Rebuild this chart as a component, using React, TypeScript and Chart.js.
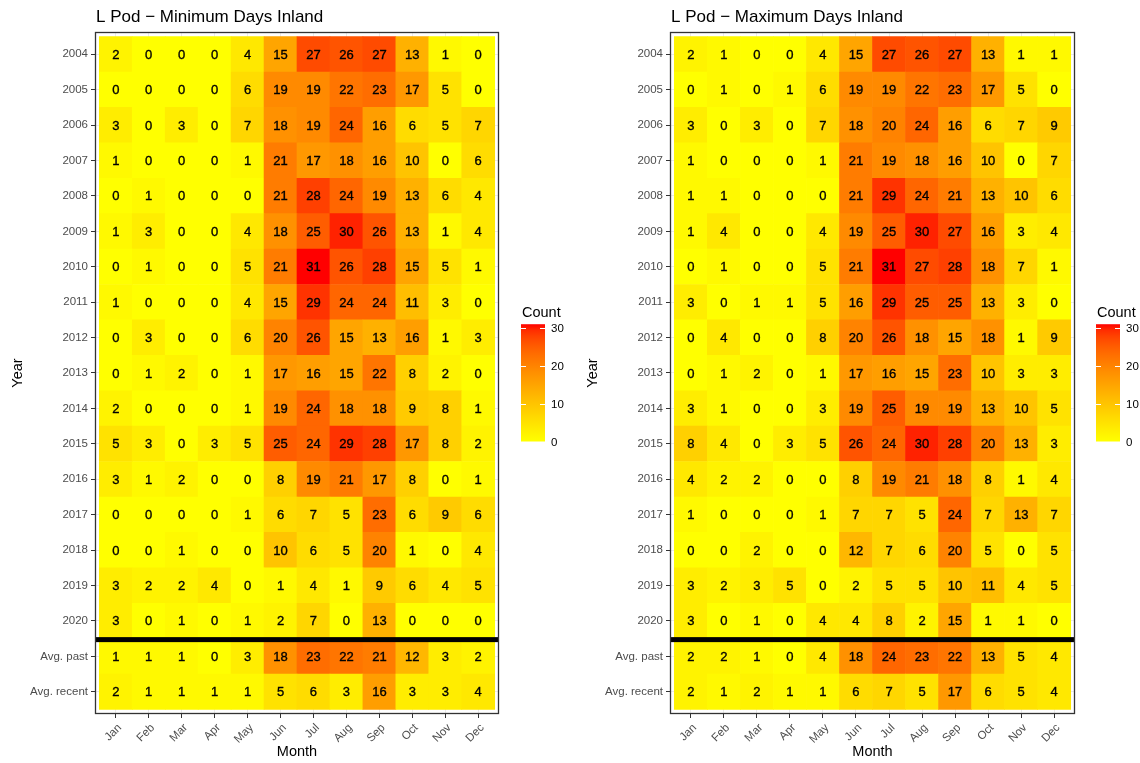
import React, { useEffect, useRef } from "react";
import { Chart, registerables } from "chart.js";

Chart.register(...registerables);

const months = ["Jan", "Feb", "Mar", "Apr", "May", "Jun", "Jul", "Aug", "Sep", "Oct", "Nov", "Dec"];
const rowLabels = [
  "2004", "2005", "2006", "2007", "2008", "2009", "2010", "2011", "2012",
  "2013", "2014", "2015", "2016", "2017", "2018", "2019", "2020", "Avg. past", "Avg. recent",
];

const minDays = [
  [2, 0, 0, 0, 4, 15, 27, 26, 27, 13, 1, 0],
  [0, 0, 0, 0, 6, 19, 19, 22, 23, 17, 5, 0],
  [3, 0, 3, 0, 7, 18, 19, 24, 16, 6, 5, 7],
  [1, 0, 0, 0, 1, 21, 17, 18, 16, 10, 0, 6],
  [0, 1, 0, 0, 0, 21, 28, 24, 19, 13, 6, 4],
  [1, 3, 0, 0, 4, 18, 25, 30, 26, 13, 1, 4],
  [0, 1, 0, 0, 5, 21, 31, 26, 28, 15, 5, 1],
  [1, 0, 0, 0, 4, 15, 29, 24, 24, 11, 3, 0],
  [0, 3, 0, 0, 6, 20, 26, 15, 13, 16, 1, 3],
  [0, 1, 2, 0, 1, 17, 16, 15, 22, 8, 2, 0],
  [2, 0, 0, 0, 1, 19, 24, 18, 18, 9, 8, 1],
  [5, 3, 0, 3, 5, 25, 24, 29, 28, 17, 8, 2],
  [3, 1, 2, 0, 0, 8, 19, 21, 17, 8, 0, 1],
  [0, 0, 0, 0, 1, 6, 7, 5, 23, 6, 9, 6],
  [0, 0, 1, 0, 0, 10, 6, 5, 20, 1, 0, 4],
  [3, 2, 2, 4, 0, 1, 4, 1, 9, 6, 4, 5],
  [3, 0, 1, 0, 1, 2, 7, 0, 13, 0, 0, 0],
  [1, 1, 1, 0, 3, 18, 23, 22, 21, 12, 3, 2],
  [2, 1, 1, 1, 1, 5, 6, 3, 16, 3, 3, 4],
];

const maxDays = [
  [2, 1, 0, 0, 4, 15, 27, 26, 27, 13, 1, 1],
  [0, 1, 0, 1, 6, 19, 19, 22, 23, 17, 5, 0],
  [3, 0, 3, 0, 7, 18, 20, 24, 16, 6, 7, 9],
  [1, 0, 0, 0, 1, 21, 19, 18, 16, 10, 0, 7],
  [1, 1, 0, 0, 0, 21, 29, 24, 21, 13, 10, 6],
  [1, 4, 0, 0, 4, 19, 25, 30, 27, 16, 3, 4],
  [0, 1, 0, 0, 5, 21, 31, 27, 28, 18, 7, 1],
  [3, 0, 1, 1, 5, 16, 29, 25, 25, 13, 3, 0],
  [0, 4, 0, 0, 8, 20, 26, 18, 15, 18, 1, 9],
  [0, 1, 2, 0, 1, 17, 16, 15, 23, 10, 3, 3],
  [3, 1, 0, 0, 3, 19, 25, 19, 19, 13, 10, 5],
  [8, 4, 0, 3, 5, 26, 24, 30, 28, 20, 13, 3],
  [4, 2, 2, 0, 0, 8, 19, 21, 18, 8, 1, 4],
  [1, 0, 0, 0, 1, 7, 7, 5, 24, 7, 13, 7],
  [0, 0, 2, 0, 0, 12, 7, 6, 20, 5, 0, 5],
  [3, 2, 3, 5, 0, 2, 5, 5, 10, 11, 4, 5],
  [3, 0, 1, 0, 4, 4, 8, 2, 15, 1, 1, 0],
  [2, 2, 1, 0, 4, 18, 24, 23, 22, 13, 5, 4],
  [2, 1, 2, 1, 1, 6, 7, 5, 17, 6, 5, 4],
];

const legendTicks = [0, 10, 20, 30];
const colorLow = 0;
const colorHigh = 31;
const separatorAfterRow = 16;

const FONT = "'Liberation Sans', Arial, Helvetica, sans-serif";

type RGB = [number, number, number];

function toLab(c: RGB): RGB {
  const lin = (v: number) => {
    v /= 255;
    return v <= 0.04045 ? v / 12.92 : Math.pow((v + 0.055) / 1.055, 2.4);
  };
  const R = lin(c[0]), G = lin(c[1]), B = lin(c[2]);
  const X = (0.4124 * R + 0.3576 * G + 0.1805 * B) / 0.95047;
  const Y = 0.2126 * R + 0.7152 * G + 0.0722 * B;
  const Z = (0.0193 * R + 0.1192 * G + 0.9505 * B) / 1.08883;
  const f = (t: number) => (t > 0.008856 ? Math.cbrt(t) : 7.787 * t + 16 / 116);
  const fx = f(X), fy = f(Y), fz = f(Z);
  return [116 * fy - 16, 500 * (fx - fy), 200 * (fy - fz)];
}

function fromLab(l: RGB): string {
  const fy = (l[0] + 16) / 116;
  const fx = fy + l[1] / 500;
  const fz = fy - l[2] / 200;
  const finv = (t: number) => (t * t * t > 0.008856 ? t * t * t : (t - 16 / 116) / 7.787);
  const X = finv(fx) * 0.95047, Y = finv(fy), Z = finv(fz) * 1.08883;
  const R = 3.2406 * X - 1.5372 * Y - 0.4986 * Z;
  const G = -0.9689 * X + 1.8758 * Y + 0.0415 * Z;
  const B = 0.0557 * X - 0.204 * Y + 1.057 * Z;
  const gam = (c: number) => {
    c = Math.min(1, Math.max(0, c));
    const v = c <= 0.0031308 ? 12.92 * c : 1.055 * Math.pow(c, 1 / 2.4) - 0.055;
    return Math.round(v * 255);
  };
  return `rgb(${gam(R)},${gam(G)},${gam(B)})`;
}

const LAB_LOW = toLab([255, 255, 0]);
const LAB_HIGH = toLab([255, 0, 0]);

function fillColor(v: number): string {
  const t = Math.min(1, Math.max(0, (v - colorLow) / (colorHigh - colorLow)));
  return fromLab([
    LAB_LOW[0] + (LAB_HIGH[0] - LAB_LOW[0]) * t,
    LAB_LOW[1] + (LAB_HIGH[1] - LAB_LOW[1]) * t,
    LAB_LOW[2] + (LAB_HIGH[2] - LAB_LOW[2]) * t,
  ]);
}

type PanelSpec = {
  title: string;
  values: number[][];
  width: number;
  height: number;
  plotLeft: number;
  plotRight: number;
  plotTop: number;
  plotBottom: number;
  legendX: number;
};

function buildChart(canvas: HTMLCanvasElement, spec: PanelSpec) {
  const points: { x: number; y: [number, number]; v: number }[] = [];
  const colors: string[] = [];
  spec.values.forEach((row, r) => {
    row.forEach((v, c) => {
      points.push({ x: c, y: [r - 0.5, r + 0.5], v });
      colors.push(fillColor(v));
    });
  });

  const panelPlugin = {
    id: "panelPlugin",
    afterDatasetsDraw(chart: any) {
      const { ctx, chartArea } = chart;
      const meta = chart.getDatasetMeta(0);
      const data = chart.data.datasets[0].data;
      ctx.save();
      ctx.font = `13px ${FONT}`;
      ctx.fillStyle = "#000";
      ctx.strokeStyle = "#000";
      ctx.lineWidth = 0.35;
      ctx.textAlign = "center";
      ctx.textBaseline = "middle";
      meta.data.forEach((el: any, i: number) => {
        const p = el.getCenterPoint();
        const s = String(data[i].v);
        ctx.fillText(s, p.x, p.y + 1);
        ctx.strokeText(s, p.x, p.y + 1);
      });
      // separator
      const ySep = chart.scales.y.getPixelForValue(separatorAfterRow + 0.5) + 1;
      ctx.fillStyle = "#000";
      ctx.fillRect(chartArea.left - 1, ySep - 2.5, chartArea.right - chartArea.left + 2, 5);
      // border
      ctx.strokeStyle = "#333333";
      ctx.lineWidth = 1.3;
      ctx.strokeRect(chartArea.left - 0.5, chartArea.top - 0.5, chartArea.right - chartArea.left + 1, chartArea.bottom - chartArea.top + 1);
      ctx.restore();
    },
    afterDraw(chart: any) {
      const { ctx, chartArea } = chart;
      ctx.save();
      // title
      ctx.font = `17px ${FONT}`;
      ctx.fillStyle = "#000";
      ctx.textAlign = "left";
      ctx.textBaseline = "alphabetic";
      ctx.fillText(spec.title, chartArea.left, 22);
      // legend
      const lx = spec.legendX;
      const bw = 24;
      const y0 = 441.5;
      const y30 = 328;
      const yOf = (v: number) => y0 - ((y0 - y30) * v) / 30;
      const top = yOf(colorHigh);
      ctx.font = `14.5px ${FONT}`;
      ctx.textBaseline = "middle";
      ctx.fillText("Count", lx + 1, 313);
      const grad = ctx.createLinearGradient(0, y0, 0, top);
      for (let i = 0; i <= 20; i++) {
        const t = i / 20;
        grad.addColorStop(t, fillColor(colorLow + (colorHigh - colorLow) * t));
      }
      ctx.fillStyle = grad;
      ctx.fillRect(lx, top, bw, y0 - top);
      ctx.strokeStyle = "#ffffff";
      ctx.lineWidth = 1;
      ctx.font = `11.5px ${FONT}`;
      ctx.fillStyle = "#000";
      legendTicks.forEach((t) => {
        const y = Math.round(yOf(t)) + 0.5;
        ctx.beginPath();
        ctx.moveTo(lx, y);
        ctx.lineTo(lx + 5, y);
        ctx.moveTo(lx + bw - 5, y);
        ctx.lineTo(lx + bw, y);
        ctx.stroke();
        ctx.fillText(String(t), lx + bw + 6, y);
      });
      ctx.restore();
    },
  };

  return new Chart(canvas, {
    type: "bar",
    data: {
      datasets: [
        {
          data: points as any,
          backgroundColor: colors,
          borderWidth: 0,
          barPercentage: 1,
          categoryPercentage: 1,
          grouped: false,
        } as any,
      ],
    },
    options: {
      responsive: false,
      maintainAspectRatio: false,
      animation: false,
      devicePixelRatio: 1,
      layout: {
        padding: { left: 0, top: spec.plotTop, right: spec.width - spec.plotRight, bottom: 0 },
      },
      plugins: {
        legend: { display: false },
        tooltip: { enabled: false },
        title: { display: false },
      },
      scales: {
        x: {
          type: "linear",
          min: -0.6,
          max: 11.6,
          bounds: "data",
          offset: false,
          afterBuildTicks: (s: any) => {
            s.ticks = months.map((_, i) => ({ value: i }));
          },
          afterFit: (s: any) => {
            s.height = spec.height - spec.plotBottom;
          },
          ticks: {
            autoSkip: false,
            minRotation: 45,
            maxRotation: 45,
            padding: 3,
            labelOffset: 4,
            color: "#4d4d4d",
            font: { family: FONT, size: 11.5 },
            callback: (v: any) => months[v as number] ?? "",
          },
          grid: { offset: false, color: "#ebebeb", tickColor: "#333333", tickLength: 5, drawTicks: true },
          border: { display: false },
          title: {
            display: true,
            text: "Month",
            color: "#000",
            font: { family: FONT, size: 14.5 },
            padding: { top: 0, bottom: 2 },
          },
        } as any,
        y: {
          type: "linear",
          reverse: true,
          min: -0.6,
          max: rowLabels.length - 1 + 0.6,
          bounds: "data",
          afterBuildTicks: (s: any) => {
            s.ticks = rowLabels.map((_, i) => ({ value: i }));
          },
          afterFit: (s: any) => {
            s.width = spec.plotLeft;
          },
          ticks: {
            autoSkip: false,
            padding: 3,
            color: "#4d4d4d",
            font: { family: FONT, size: 11.5 },
            callback: (v: any) => rowLabels[v as number] ?? "",
          },
          grid: { color: "#ebebeb", tickColor: "#333333", tickLength: 5, drawTicks: true },
          border: { display: false },
          title: {
            display: true,
            text: "Year",
            color: "#000",
            font: { family: FONT, size: 14.5 },
            padding: { top: 9, bottom: 0 },
          },
        } as any,
      },
    } as any,
    plugins: [panelPlugin],
  });
}

export default function App() {
  const leftRef = useRef<HTMLCanvasElement>(null);
  const rightRef = useRef<HTMLCanvasElement>(null);

  useEffect(() => {
    const charts: Chart[] = [];
    if (leftRef.current) {
      charts.push(
        buildChart(leftRef.current, {
          title: "L Pod \u2212 Minimum Days Inland",
          values: minDays,
          width: 575,
          height: 763,
          plotLeft: 96,
          plotRight: 498,
          plotTop: 33,
          plotBottom: 713,
          legendX: 521,
        })
      );
    }
    if (rightRef.current) {
      charts.push(
        buildChart(rightRef.current, {
          title: "L Pod \u2212 Maximum Days Inland",
          values: maxDays,
          width: 565,
          height: 763,
          plotLeft: 96,
          plotRight: 499,
          plotTop: 33,
          plotBottom: 713,
          legendX: 521,
        })
      );
    }
    return () => charts.forEach((c) => c.destroy());
  }, []);

  return (
    <div
      style={{
        position: "fixed",
        left: 0,
        top: 0,
        width: 1140,
        height: 763,
        background: "#ffffff",
        overflow: "hidden",
      }}
    >
      <canvas ref={leftRef} width={575} height={763} style={{ position: "absolute", left: 0, top: 0 }} />
      <canvas ref={rightRef} width={565} height={763} style={{ position: "absolute", left: 575, top: 0 }} />
    </div>
  );
}
